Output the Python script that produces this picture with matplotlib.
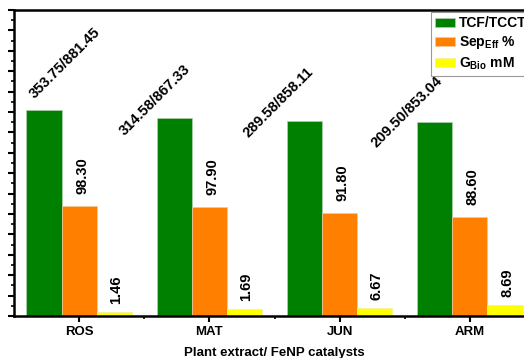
import matplotlib.pyplot as plt
import numpy as np
from matplotlib.ticker import MultipleLocator, FixedLocator

plt.rcParams['font.family'] = ['Liberation Sans', 'DejaVu Sans']
plt.rcParams['font.weight'] = 'bold'
plt.rcParams['mathtext.fontset'] = 'custom'
plt.rcParams['mathtext.rm'] = 'Liberation Sans:bold'
plt.rcParams['mathtext.bf'] = 'Liberation Sans:bold'
plt.rcParams['mathtext.default'] = 'bf'

# Данные (высоты столбцов, подписи - значения)
catalysts = ['ROS', 'MAT', 'JUN', 'ARM']
tcf_heights = [201.5, 194.3, 191.0, 190.0]
sep_heights = [107.4, 106.7, 101.2, 97.5]
gbio_heights = [4.1, 6.4, 8.3, 10.6]
tcf_labels = ['353.75/881.45', '314.58/867.33', '289.58/858.11', '209.50/853.04']
sep_labels = ['98.30', '97.90', '91.80', '88.60']
gbio_labels = ['1.46', '1.69', '6.67', '8.69']

# положение подписей TCF/TCCT (x-сдвиг от центра группы, y в единицах оси)
tcf_label_dx = [-0.11, -0.42, -0.47, -0.48]
tcf_label_y = [248, 212, 209, 200]

fig = plt.figure(figsize=(5.24, 3.58), dpi=100)
ax = fig.add_axes([14 / 524, 42 / 358, 521 / 524, 306 / 358])

x = np.arange(len(catalysts))
w = 0.27
ax.bar(x - w, tcf_heights, w, color='#008000', edgecolor='#b0d0b0', linewidth=0.5,
       label='TCF/TCCT')
ax.bar(x, sep_heights, w, color='#ff8000', edgecolor='#f0c8a0', linewidth=0.5,
       label=r'Sep$_{Eff}$ %')
ax.bar(x + w, gbio_heights, w, color='#ffff00', edgecolor='#f0f0a0', linewidth=0.5,
       label=r'G$_{Bio}$ mM')

for i in range(len(catalysts)):
    ax.text(x[i] + tcf_label_dx[i], tcf_label_y[i], tcf_labels[i], rotation=45,
            rotation_mode='anchor', ha='center', va='center', fontsize=10.5,
            fontweight='bold')
    ax.annotate(sep_labels[i], (x[i], sep_heights[i]), xytext=(3, 12),
                textcoords='offset pixels', rotation=90, ha='center', va='bottom',
                fontsize=10.5, fontweight='bold')
    ax.annotate(gbio_labels[i], (x[i] + w, gbio_heights[i]), xytext=(2, 8),
                textcoords='offset pixels', rotation=90, ha='center', va='bottom',
                fontsize=10.5, fontweight='bold')

ax.set_xlim(-0.5, 3.5)
ax.set_ylim(0, 300)
ax.set_xticks(x)
ax.set_xticklabels(catalysts, fontsize=9.5, fontweight='bold')
ax.xaxis.set_minor_locator(FixedLocator([0.5, 1.5, 2.5]))
ax.yaxis.set_major_locator(MultipleLocator(20))
ax.yaxis.set_minor_locator(MultipleLocator(10))
ax.set_yticklabels([])
ax.tick_params(axis='both', which='major', direction='out', length=4, width=1.5, pad=3)
ax.tick_params(axis='both', which='minor', direction='out', length=2.5, width=1.2)
ax.set_xlabel('Plant extract/ FeNP catalysts', fontsize=9.5, fontweight='bold',
              labelpad=7)

for s in ['left', 'bottom', 'top']:
    ax.spines[s].set_linewidth(1.8)
ax.spines['right'].set_visible(False)

leg = ax.legend(loc='upper left', bbox_to_anchor=(431 / 524, 1 - 12 / 358),
                bbox_transform=fig.transFigure, fontsize=10, frameon=True,
                fancybox=False, edgecolor='#808080', handlelength=1.4,
                handleheight=0.65, handletextpad=0.3, labelspacing=0.3,
                borderpad=0.3, borderaxespad=0)
leg.get_frame().set_linewidth(0.8)
for t in leg.get_texts():
    t.set_fontweight('bold')

fig.savefig('out.png', dpi=100)
